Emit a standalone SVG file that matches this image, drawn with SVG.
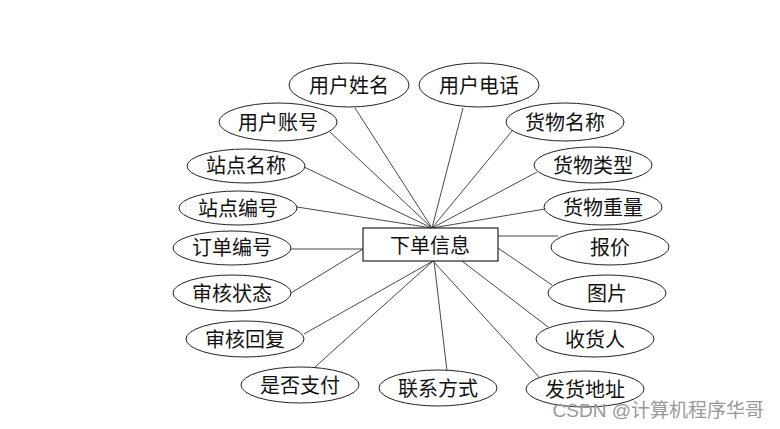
<svg xmlns="http://www.w3.org/2000/svg" width="780" height="429" viewBox="0 0 780 429">
<style>
.e{fill:#fff;stroke:#222;stroke-width:1}
.r{fill:#fff;stroke:#222;stroke-width:1.2}
.t{font-family:"Noto Sans CJK SC","Liberation Serif",serif;font-size:20px;fill:#111;text-anchor:middle;dominant-baseline:central}
.c line{stroke:#333;stroke-width:0.9}
.wm{font-family:"Liberation Sans","Noto Sans CJK SC",sans-serif;font-size:19px;fill:#999;text-anchor:end}
</style>
<rect width="780" height="429" fill="#fff"/>
<g class="c" id="connectors">
<line x1="355" y1="108" x2="432" y2="228"/>
<line x1="330" y1="132" x2="432" y2="228"/>
<line x1="304" y1="167" x2="432" y2="228"/>
<line x1="297" y1="207" x2="432" y2="228"/>
<line x1="463" y1="108" x2="432" y2="228"/>
<line x1="512" y1="131" x2="432" y2="228"/>
<line x1="537" y1="172" x2="432" y2="228"/>
<line x1="545" y1="209" x2="432" y2="228"/>
<line x1="291" y1="249" x2="363" y2="249"/>
<line x1="291" y1="293" x2="363" y2="249"/>
<line x1="304" y1="334" x2="433" y2="261"/>
<line x1="315" y1="367" x2="433" y2="261"/>
<line x1="447" y1="371" x2="434" y2="261"/>
<line x1="539" y1="377" x2="433" y2="261"/>
<line x1="548" y1="327" x2="462" y2="261"/>
<line x1="552" y1="285" x2="498" y2="248"/>
<line x1="498" y1="236" x2="558" y2="236"/>
</g>
<g id="main"><rect class="r" x="363" y="228" width="135" height="33"/><text class="t" x="430" y="244">下单信息</text></g>
<g id="n1"><ellipse class="e" cx="349" cy="85" rx="60" ry="22"/><text class="t" x="349" y="84">用户姓名</text></g>
<g id="n2"><ellipse class="e" cx="479" cy="85" rx="60" ry="22"/><text class="t" x="479" y="84">用户电话</text></g>
<g id="n3"><ellipse class="e" cx="278" cy="122" rx="59" ry="19"/><text class="t" x="278" y="121">用户账号</text></g>
<g id="n4"><ellipse class="e" cx="246" cy="166" rx="59" ry="17"/><text class="t" x="246" y="164">站点名称</text></g>
<g id="n5"><ellipse class="e" cx="238" cy="208" rx="59" ry="17"/><text class="t" x="238" y="207">站点编号</text></g>
<g id="n6"><ellipse class="e" cx="232" cy="248" rx="59" ry="17"/><text class="t" x="232" y="246">订单编号</text></g>
<g id="n7"><ellipse class="e" cx="232" cy="293" rx="59" ry="18"/><text class="t" x="232" y="292">审核状态</text></g>
<g id="n8"><ellipse class="e" cx="245" cy="339" rx="59" ry="18"/><text class="t" x="245" y="338">审核回复</text></g>
<g id="n9"><ellipse class="e" cx="300" cy="385" rx="59" ry="18"/><text class="t" x="300" y="384">是否支付</text></g>
<g id="n10"><ellipse class="e" cx="438" cy="388" rx="59" ry="18"/><text class="t" x="438" y="387">联系方式</text></g>
<g id="n11"><ellipse class="e" cx="565" cy="122" rx="59" ry="19"/><text class="t" x="565" y="121">货物名称</text></g>
<g id="n12"><ellipse class="e" cx="593" cy="165" rx="59" ry="18"/><text class="t" x="593" y="164">货物类型</text></g>
<g id="n13"><ellipse class="e" cx="603" cy="207" rx="59" ry="18"/><text class="t" x="603" y="206">货物重量</text></g>
<g id="n14"><ellipse class="e" cx="610" cy="247" rx="59" ry="18"/><text class="t" x="610" y="246">报价</text></g>
<g id="n15"><ellipse class="e" cx="607" cy="293" rx="59" ry="18"/><text class="t" x="607" y="292">图片</text></g>
<g id="n16"><ellipse class="e" cx="595" cy="339" rx="59" ry="18"/><text class="t" x="595" y="338">收货人</text></g>
<g id="n17"><ellipse class="e" cx="585" cy="389" rx="59" ry="18"/><text class="t" x="585" y="388">发货地址</text></g>
<text class="wm" x="764" y="417">CSDN @计算机程序华哥</text>
</svg>
